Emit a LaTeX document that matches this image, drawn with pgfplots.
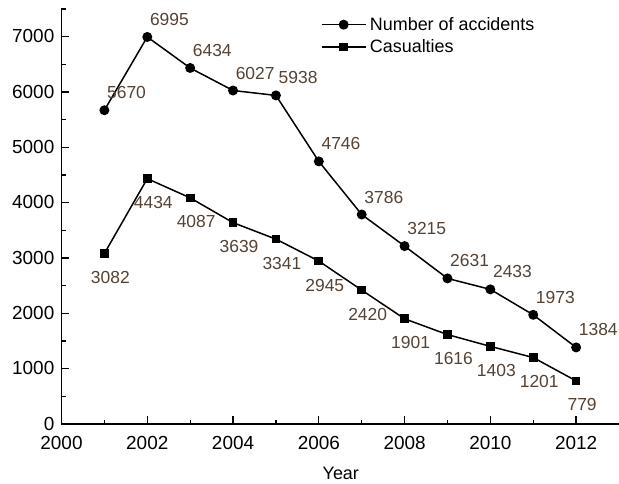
\documentclass[border=0pt]{standalone}
\usepackage{fontspec}
\setmainfont{Liberation Sans}
\usepackage{pgfplots}
\pgfplotsset{compat=1.18}
\usepackage{pgfplotstable}

\definecolor{lblbrown}{RGB}{84,66,52}

\pgfplotstableread{
year value
2001 5670
2002 6995
2003 6434
2004 6027
2005 5938
2006 4746
2007 3786
2008 3215
2009 2631
2010 2433
2011 1973
2012 1384
}\accidents

\pgfplotstableread{
year value
2001 3082
2002 4434
2003 4087
2004 3639
2005 3341
2006 2945
2007 2420
2008 1901
2009 1616
2010 1403
2011 1201
2012 779
}\casualties

\begin{document}
\begin{tikzpicture}
\begin{axis}[
  scale only axis,
  width=557.5bp, height=415bp,
  xmin=2000, xmax=2013,
  ymin=0, ymax=7500,
  axis x line=bottom, axis y line=left,
  axis line style={-, line width=1.6bp},
  xtick={2000,2002,...,2012},
  ytick={0,1000,...,7000},
  minor xtick={2001,2003,...,2011},
  minor ytick={500,1500,...,7500},
  tick align=inside,
  major tick length=8bp, minor tick length=4.5bp,
  tick style={line width=1.3bp, black},
  /pgf/number format/assume math mode=true,
  /pgf/number format/1000 sep={},
  tick label style={font=\fontsize{19}{21}\selectfont, text=black, inner sep=1bp},
  xticklabel style={yshift=-11bp},
  yticklabel style={xshift=-6bp, yshift=0.5bp},
  xlabel={Year},
  xlabel style={font=\fontsize{18}{20}\selectfont, inner sep=0pt,
    at={(axis description cs:0.501,-0.12)}, anchor=center},
  legend style={draw=none, fill=none, at={(0.465,0.985)}, anchor=north west,
    font=\fontsize{18}{20}\selectfont, row sep=4bp, inner sep=0pt,
    legend cell align=left,
    nodes={inner xsep=3.5bp}},
  legend image code/.code={\draw[#1, mark repeat=2, mark phase=2]
    plot coordinates {(0bp,0bp) (22bp,0bp) (44bp,0bp)};},
  clip=false,
]
\addplot[black, line width=1.5bp, mark=*, mark size=4.2bp,
  mark options={solid},
  nodes near coords, point meta=explicit symbolic,
  every node near coord/.style={font=\fontsize{17.5}{19}\selectfont, text=lblbrown,
    inner sep=0pt, anchor=base west, xshift=2bp, yshift=11.5bp}]
  table[x=year, y=value, meta=value] {\accidents};
\addlegendentry{Number of accidents}
\addplot[black, line width=1.5bp, mark=square*, mark size=3.6bp,
  mark options={solid},
  nodes near coords, point meta=explicit symbolic,
  every node near coord/.style={font=\fontsize{17.5}{19}\selectfont, text=lblbrown,
    inner sep=0pt, anchor=base, xshift=6bp, yshift=-30bp}]
  table[x=year, y=value, meta=value] {\casualties};
\addlegendentry{Casualties}
\end{axis}
\pgfresetboundingbox
\path[use as bounding box] (-61.5bp,-60bp) rectangle (557.5bp,424bp);
\end{tikzpicture}
\end{document}
